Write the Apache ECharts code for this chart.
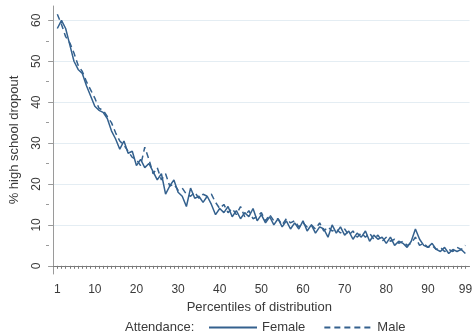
<!DOCTYPE html>
<html><head><meta charset="utf-8">
<script src="https://cdn.jsdelivr.net/npm/echarts@6/dist/echarts.min.js"></script>
<style>html,body{margin:0;padding:0;background:#fff}#c{width:475px;height:335px}</style>
</head><body><div id="c"></div>
<script>
const percentiles = Array.from({length: 99}, (_, i) => i + 1);
const female = [58,60,58,54,50,48,47,44,41.5,39,38,37.5,36,33,31,28.5,30.5,27.5,28,24.5,
26,24,25,23,21,22.5,17.5,19.5,21,18,17,14.5,19,16.5,17,15.5,17,15,12.5,14,
13,14.5,12,13.5,11.5,13,12,14,11,12.5,10.5,12,10,11.5,9.5,11,9,10.5,9,11,
8.5,10,8,9.5,9,7,10,8,9.5,7.5,8.5,6.5,8,7,8.5,6,7.5,6.5,7,5.5,
7,5,6,5.5,4.5,6,9,6.5,5,4.5,5.5,4,3.5,4.5,3,4,3.5,4,3];
const male = [61.5,59,56,54.5,52,49,47.5,45,43,41,38.5,38,36.5,35,32.5,30.5,29.5,28,26.5,26,
24.5,29,26,22.5,24,21,22.5,19.5,20,18.5,19,17.5,17,18,16.5,17.5,17,17.5,15.5,14,
15,13,14,12.5,14.5,12,13.5,11.5,12,13,11,12.5,11,11.5,10,11.5,10.5,11,9.5,10.5,
9.5,10,9,10.5,8.5,9.5,8.5,9,8,9,7.5,8.5,7,8,7,8,6.5,7.5,6,7,
6,6.5,5.5,6,5,5.5,7,5,5.5,4.5,5,4,4.5,3.5,4,3.5,4.5,4,5];
const xTickLabels = [1,10,20,30,40,50,60,70,80,90,99];
const yTickLabels = [0,10,20,30,40,50,60];
const yMinorTicks = [5,15,25,35,45,55];

const lineColor = '#34618e';
const textColor = '#3a3a3a';
const font = 'Liberation Sans';

const chart = echarts.init(document.getElementById('c'), null, {renderer: 'canvas'});
chart.setOption({
  animation: false,
  backgroundColor: '#fff',
  textStyle: {fontFamily: font},
  grid: {left: 43, right: 3, top: 6, bottom: 61, containLabel: false},
  xAxis: {
    type: 'value', min: -1, max: 100,
    name: 'Percentiles of distribution', nameLocation: 'middle', nameGap: 20,
    nameTextStyle: {color: textColor, fontSize: 13, fontFamily: font},
    axisLine: {show: true, lineStyle: {color: '#7a7a7a', width: 1}},
    axisTick: {show: true, length: 3, lineStyle: {color: '#7a7a7a'}, customValues: percentiles},
    axisLabel: {color: textColor, fontSize: 12, fontFamily: font, margin: 10, customValues: xTickLabels},
    splitLine: {show: false}
  },
  yAxis: [{
    type: 'value', min: -2, max: 63.5,
    name: '% high school dropout', nameLocation: 'middle', nameGap: 28,
    nameTextStyle: {color: textColor, fontSize: 13, fontFamily: font},
    axisLine: {show: true, lineStyle: {color: '#9a9a9a', width: 1}},
    axisTick: {show: true, length: 5, lineStyle: {color: '#9a9a9a'}, customValues: yTickLabels},
    axisLabel: {color: textColor, fontSize: 12, fontFamily: font, rotate: 90, margin: 6, customValues: yTickLabels},
    splitLine: {show: true, lineStyle: {color: '#e4edf3', width: 1}}
  }, {
    type: 'value', min: -2, max: 63.5, position: 'left',
    axisLine: {show: false},
    axisTick: {show: true, length: 3, lineStyle: {color: '#9a9a9a'}, customValues: yMinorTicks},
    axisLabel: {show: false},
    splitLine: {show: false}
  }],
  legend: {
    left: 208, top: 321, padding: 0, itemWidth: 48, itemHeight: 14, itemGap: 18,
    itemStyle: {opacity: 0},
    textStyle: {color: textColor, fontSize: 13, fontFamily: font},
    data: ['Female', 'Male']
  },
  graphic: [{
    type: 'text', left: 125, top: 321,
    style: {text: 'Attendance:', fill: textColor, font: '13px "Liberation Sans"'}
  }],
  series: [{
    name: 'Female', type: 'line', symbol: 'none', yAxisIndex: 0,
    data: percentiles.map((p, i) => [p, female[i]]),
    lineStyle: {color: lineColor, width: 1.5}, itemStyle: {color: lineColor}
  }, {
    name: 'Male', type: 'line', symbol: 'none', yAxisIndex: 0,
    data: percentiles.map((p, i) => [p, male[i]]),
    lineStyle: {color: lineColor, width: 1.5, type: [6, 4]}, itemStyle: {color: lineColor}
  }]
});
</script></body></html>
